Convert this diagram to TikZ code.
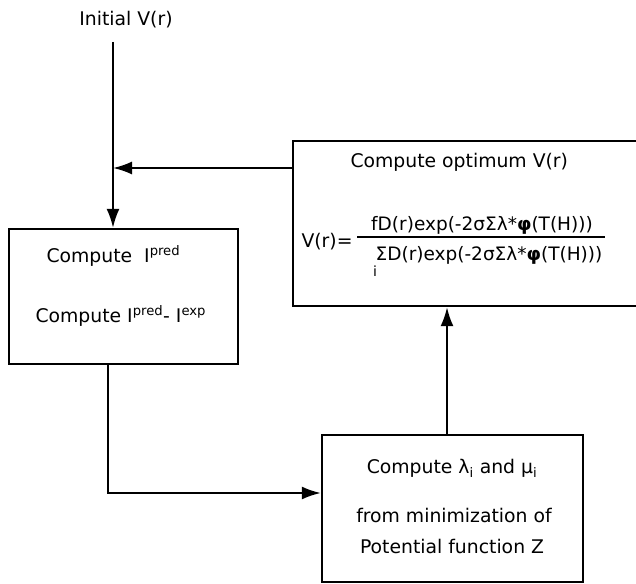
\documentclass[tikz,border=0pt]{standalone}
\usepackage{fontspec}
\setmainfont{DejaVu Sans}
\usetikzlibrary{arrows.meta}
\begin{document}
\begin{tikzpicture}[x=1pt, y=-1pt,
	caixa/.style={draw, line width=2.4pt, inner sep=0pt},
	seta/.style={line width=2pt, -{Latex[length=19pt, width=13pt]}},
	every node/.style={font=\fontsize{18.8}{22}\selectfont}]
	\clip (0,0) rectangle (636,583);
	
	% Caixas
	\node[caixa, minimum width=229pt, minimum height=135pt] (pred) at (123.5,296.5) {};
	\node[caixa, minimum width=387pt, minimum height=165pt] (opt) at (486.5,223.5) {};
	\node[caixa, minimum width=261pt, minimum height=147pt] (lam) at (452.5,508.5) {};
	
	% Textos
	\node (init) at (126,20) {Initial V(r)};
	\node[anchor=base west] (predA) at (43,262) {Compute~~I\textsuperscript{pred}};
	\node[anchor=base west] (predB) at (32,322) {Compute I\textsuperscript{pred}- I\textsuperscript{exp}};
	\node[anchor=west] (optA) at (347,162) {Compute optimum V(r)};
	\node (vr) at (327,242) {V(r)=};
	\node[font=\fontsize{18.5}{21}\selectfont] (num) at (482,225) {fD(r)exp(-2σΣλ*\textbf{φ}(T(H)))};
	\node[font=\fontsize{18.5}{21}\selectfont] (den) at (489,255) {ΣD(r)exp(-2σΣλ*\textbf{φ}(T(H)))};
	\node[font=\fontsize{14}{16}\selectfont] (deni) at (375,271) {i};
	\draw[line width=1.8pt] (357,237) -- (605,237);
	\node (lamA) at (452,468) {Compute λ\textsubscript{i} and μ\textsubscript{i}};
	\node (lamB) at (454,515) {from minimization of};
	\node (lamC) at (452,546) {Potential function Z};
	
	% Setas
	\coordinate (a) at (113,42);
	\coordinate (j) at (113,168);
	\coordinate (b) at (108,493);
	\coordinate (c) at (447,400);
	\draw[seta] (a) -- (a |- pred.north);
	\draw[seta] (j -| opt.west) -- (j);
	\draw[seta] (b |- pred.south) -- (b) -- (b -| lam.west);
	\draw[seta] (c |- lam.north) -- (c |- opt.south);
\end{tikzpicture}
\end{document}
